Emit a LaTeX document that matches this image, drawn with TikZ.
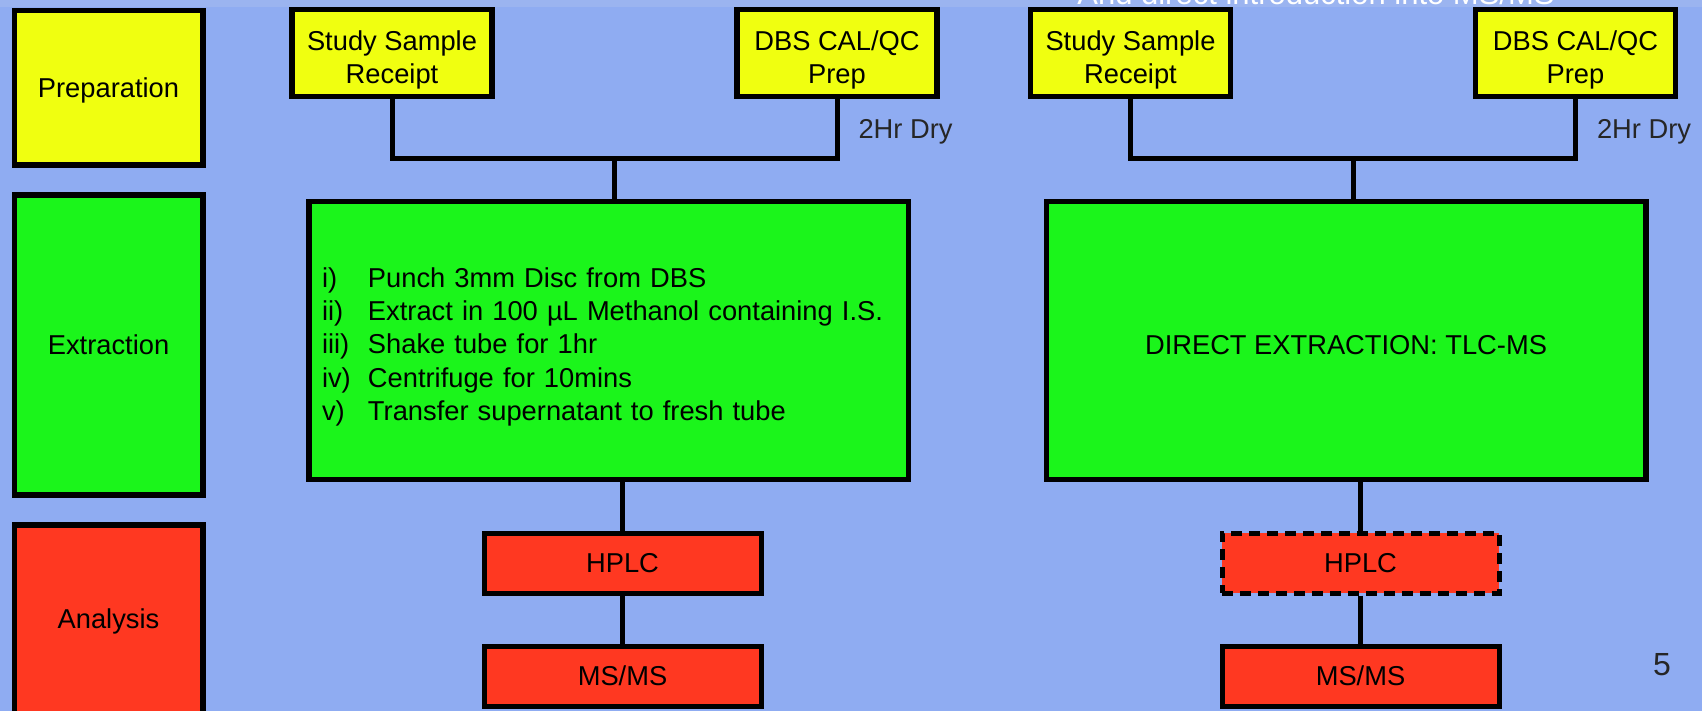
\documentclass[tikz,border=0pt]{standalone}
\usepackage{fontspec}
\setmainfont{Liberation Sans}
\usepackage{xcolor}
\usetikzlibrary{positioning,calc}

\definecolor{slideblue}{RGB}{143,172,242}
\definecolor{titleblue}{RGB}{155,180,240}
\definecolor{prepyellow}{RGB}{240,255,16}
\definecolor{extgreen}{RGB}{27,245,27}
\definecolor{anared}{RGB}{255,56,33}

% Line strut with the ascent and descent of the slide font.
\newcommand{\slidestrut}{\rule[-0.212em]{0pt}{1.117em}}
% Taller strut for a first line, drops the text a little in its box.
\newcommand{\lowstrut}{\rule[-0.212em]{0pt}{1.45em}}

\tikzset{
    box/.style={draw=black, line width=5.5pt, inner sep=0pt, align=center,
        font=\fontsize{27.3}{33.3}\selectfont,
        execute at begin node=\slidestrut, execute at end node=\slidestrut},
    stagebox/.style={box, minimum width=188.5pt},
    prepbox/.style={box, fill=prepyellow, minimum width=200pt, minimum height=87pt},
    extbox/.style={box, fill=extgreen, minimum width=599.5pt, minimum height=277.5pt},
    anabox/.style={box, fill=anared, line width=5pt, minimum width=277pt, minimum height=60pt},
    optbox/.style={anabox, dash pattern=on 11pt off 7pt},
    link/.style={line width=5pt, line join=miter},
    drytext/.style={anchor=west, inner sep=0pt, xshift=19pt, text=black!85,
        font=\fontsize{27.3}{33.3}\selectfont, execute at begin node=\slidestrut}
}

\begin{document}
\begin{tikzpicture}[x=1pt,y=-1pt]

    % Slide background and clipped title.
    \clip (0,0) rectangle (1702,711);
    \fill[slideblue] (0,0) rectangle (1702,711);
    \fill[titleblue] (0,0) rectangle (1702,7);
    \node[anchor=base, inner sep=0pt, text=white, font=\fontsize{31}{37}\selectfont] (title)
        at (1316,5) {And direct introduction into MS/MS};

    % Stage labels down the left.
    \foreach \name/\colour/\y/\h/\label in {prep/prepyellow/88/154.5/Preparation,
            extr/extgreen/345/299.5/Extraction, anal/anared/619/188.5/Analysis}
        \node[stagebox, fill=\colour, minimum height=\h] (\name) at (108.5,\y) {\label};

    % Solvent extraction route.
    \node[prepbox] (study1) at (392,53) {\lowstrut Study Sample\\Receipt};
    \node[prepbox] (dbs1) at (837,53) {\lowstrut DBS CAL/QC\\Prep};
    \node[extbox, align=left, text width=573pt, inner xsep=13.25pt] (ext1) at (608.5,340.5)
        {\rule{0pt}{1.2em}\makebox[46pt][l]{i)}Punch 3mm Disc from DBS\\
         \makebox[46pt][l]{ii)}Extract in 100 µL Methanol containing I.S.\\
         \makebox[46pt][l]{iii)}Shake tube for 1hr\\
         \makebox[46pt][l]{iv)}Centrifuge for 10mins\\
         \makebox[46pt][l]{v)}Transfer supernatant to fresh tube};
    \node[anabox] (hplc1) at (622.5,563) {HPLC};
    \node[anabox, below=48pt of hplc1] (ms1) {MS/MS};

    % Direct TLC-MS route.
    \node[prepbox] (study2) at (1130.5,53) {\lowstrut Study Sample\\Receipt};
    \node[prepbox] (dbs2) at (1575.5,53) {\lowstrut DBS CAL/QC\\Prep};
    \node[extbox] (ext2) at (1346,340.5) {\lowstrut DIRECT EXTRACTION: TLC-MS};
    \node[optbox] (hplc2) at (1360.5,563) {HPLC};
    \node[anabox, below=48pt of hplc2] (ms2) {MS/MS};

    % Connectors.
    \foreach \n in {1,2} {
        \coordinate (join\n) at ($(study\n.south)!0.5!(dbs\n.south) + (0,59)$);
        \draw[link] (study\n.south) |- (join\n) -| node[pos=0.75, drytext] {2Hr Dry} (dbs\n.south);
        \draw[link] (join\n) -- (join\n |- ext\n.north);
        \draw[link] (hplc\n.north |- ext\n.south) -- (hplc\n.north);
        \draw[link] (hplc\n.south) -- (ms\n.north);
    }

    % Slide number.
    \node[font=\fontsize{32}{38}\selectfont, text=black!85] (slideno) at (1662,665) {5};

\end{tikzpicture}
\end{document}
